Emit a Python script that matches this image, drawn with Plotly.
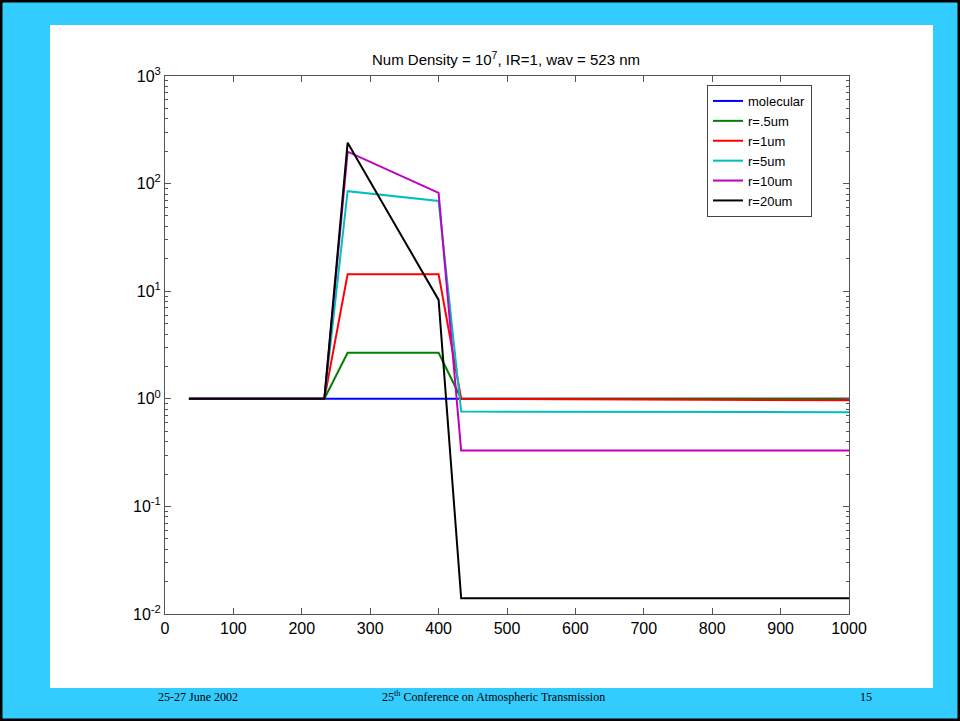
import plotly.graph_objects as go

# ---- data ----
series_names = ["molecular", "r=.5um", "r=1um", "r=5um", "r=10um", "r=20um"]
series_colors = ["#0000ff", "#007f00", "#ff0000", "#00bfbf", "#bf00bf", "#000000"]

x_molecular = [35, 233, 433, 1000]
y_molecular = [1.0, 1.0, 1.0, 1.0]

x_r05 = [35, 233, 267, 400, 433, 1000]
y_r05 = [1.0, 1.0, 2.68, 2.68, 1.0, 1.0]

x_r1 = [35, 233, 267, 400, 433, 1000]
y_r1 = [1.0, 1.0, 14.4, 14.4, 1.0, 0.97]

x_r5 = [35, 233, 267, 400, 433, 1000]
y_r5 = [1.0, 1.0, 85, 69, 0.76, 0.75]

x_r10 = [35, 233, 267, 400, 433, 1000]
y_r10 = [1.0, 1.0, 198, 82, 0.33, 0.33]

x_r20 = [35, 233, 267, 400, 433, 1000]
y_r20 = [1.0, 1.0, 240, 8.3, 0.014, 0.014]

xs = [x_molecular, x_r05, x_r1, x_r5, x_r10, x_r20]
ys = [y_molecular, y_r05, y_r1, y_r5, y_r10, y_r20]

x_ticks = [0, 100, 200, 300, 400, 500, 600, 700, 800, 900, 1000]
y_tick_exps = [-2, -1, 0, 1, 2, 3]

title_text = "Num Density = 10<sup>7</sup>, IR=1, wav = 523 nm"
footer_left = "25-27 June 2002"
footer_mid = "25<sup>th</sup> Conference on Atmospheric Transmission"
footer_right = "15"

# ---- figure ----
W, H = 960, 721
L, R, T, B = 165, 849, 76, 614
pw, ph = R - L, B - T

def px(xp):
    return (xp - L) / pw

def py(yp):
    return (B - yp) / ph

fig = go.Figure()
for name, col, xv, yv in zip(series_names, series_colors, xs, ys):
    fig.add_trace(go.Scatter(x=xv, y=yv, mode="lines", name=name,
                             line=dict(color=col, width=2)))

minor_vals = [m * 10 ** e for e in y_tick_exps[:-1] for m in range(2, 10)]
axis_col = "#555555"

fig.update_layout(
    width=W, height=H,
    margin=dict(l=L, r=W - R, t=T, b=H - B, pad=0),
    paper_bgcolor="#33ccff",
    plot_bgcolor="white",
    font=dict(family="Liberation Sans, Arial, sans-serif", color="black", size=15),
    title=dict(text=title_text, x=506 / W, xanchor="center",
               y=1 - 60 / H, yanchor="middle", font=dict(size=15)),
    showlegend=True,
    legend=dict(x=px(707), y=py(85), xanchor="left", yanchor="top",
                bgcolor="white", bordercolor="#444444", borderwidth=1,
                font=dict(size=13), tracegroupgap=0, itemwidth=30,
                entrywidth=122, entrywidthmode="pixels",
                traceorder="normal"),
    xaxis=dict(range=[0, 1000], tickvals=x_ticks, ticks="inside", ticklen=6,
               tickcolor=axis_col, showline=True, linecolor=axis_col, linewidth=1,
               mirror="allticks", showgrid=False, zeroline=False,
               tickfont=dict(size=16)),
    yaxis=dict(type="log", range=[-2, 3], tickvals=[10 ** e for e in y_tick_exps],
               ticktext=["10<sup>%d</sup>" % e for e in y_tick_exps],
               ticks="inside", ticklen=6, tickcolor=axis_col,
               showline=True, linecolor=axis_col, linewidth=1,
               mirror="allticks", showgrid=False, zeroline=False,
               tickfont=dict(size=16),
               minor=dict(tickvals=minor_vals, ticks="inside", ticklen=3,
                          tickcolor=axis_col, showgrid=False)),
)

# white slide panel and black outer border
fig.add_shape(type="rect", xref="paper", yref="paper",
              x0=px(50), x1=px(933), y0=py(688), y1=py(25),
              fillcolor="white", line=dict(width=0), layer="below")
fig.add_shape(type="rect", xref="paper", yref="paper",
              x0=px(1), x1=px(959), y0=py(720), y1=py(1),
              fillcolor="rgba(0,0,0,0)", line=dict(color="black", width=3),
              layer="above")

footer_font = dict(family="Liberation Serif, Times New Roman, serif", size=12, color="black")
for txt, xc in [(footer_left, 198), (footer_mid, 493), (footer_right, 866)]:
    fig.add_annotation(text=txt, xref="paper", yref="paper", x=px(xc), y=py(697),
                       xanchor="center", yanchor="middle", showarrow=False,
                       font=footer_font)

fig.write_html("out.html")
